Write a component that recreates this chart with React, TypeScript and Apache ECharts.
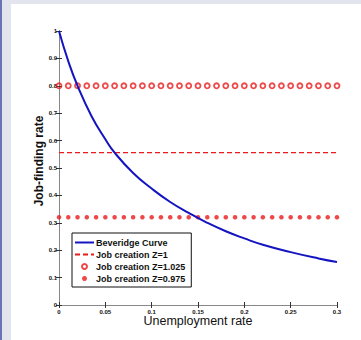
import React, { useEffect, useRef } from "react";
import * as echarts from "echarts";

// Beveridge curve points (unemployment rate, job-finding rate)
const beveridgeU = [0, 0.01, 0.02, 0.035, 0.05, 0.06, 0.08, 0.1, 0.12, 0.14, 0.16, 0.18, 0.2, 0.22, 0.25, 0.28, 0.3];
const beveridgeF = [1, 0.89, 0.8, 0.69, 0.605, 0.556, 0.482, 0.425, 0.376, 0.336, 0.3, 0.269, 0.243, 0.22, 0.193, 0.17, 0.157];

// Job creation lines (horizontal levels)
const jobCreationZ1U = [0, 0.3];
const jobCreationZ1Level = 0.556;
const markerU = [
  0, 0.01, 0.02, 0.03, 0.04, 0.05, 0.06, 0.07, 0.08, 0.09, 0.1, 0.11, 0.12, 0.13, 0.14, 0.15,
  0.16, 0.17, 0.18, 0.19, 0.2, 0.21, 0.22, 0.23, 0.24, 0.25, 0.26, 0.27, 0.28, 0.29, 0.3,
];
const jobCreationHighLevel = 0.8; // Z=1.025
const jobCreationLowLevel = 0.32; // Z=0.975

const seriesNames = ["Beveridge Curve", "Job creation Z=1", "Job creation Z=1.025", "Job creation Z=0.975"];
const xTitle = "Unemployment rate";
const yTitle = "Job-finding rate";

const BLUE = "#1414c0";
const RED = "#e81c1c";

export default function App() {
  const ref = useRef<HTMLDivElement>(null);

  useEffect(() => {
    if (!ref.current) return;
    const chart = echarts.init(ref.current, null, { renderer: "svg" });
    const fmt = (v: number) => {
      const r = parseFloat(v.toFixed(2));
      return r === 0 ? "0" : String(r);
    };
    const tickLabel = { fontSize: 6, fontWeight: "bold" as const, color: "#111", fontFamily: "Liberation Sans" };
    const baseAxisLine = { show: true, lineStyle: { color: "#222", width: 1 } };
    const boxAxisLine = { show: true, lineStyle: { color: "#888", width: 1 } };
    const tick = { show: true, inside: true, length: 3, lineStyle: { color: "#333", width: 1 } };

    chart.setOption({
      animation: false,
      backgroundColor: "transparent",
      grid: { left: 59, top: 31, width: 278, height: 274, containLabel: false },
      graphic: [
        { type: "rect", z: -10, shape: { x: 0, y: 0, width: 361, height: 340 }, style: { fill: "#e3e5ee" } },
        { type: "rect", z: -9, shape: { x: 0, y: 0, width: 2, height: 340 }, style: { fill: "#6a74b4" } },
        { type: "rect", z: -9, shape: { x: 11, y: 4, width: 350, height: 336 }, style: { fill: "#ffffff" } },
        {
          type: "text",
          x: 39,
          y: 161,
          rotation: Math.PI / 2,
          style: {
            text: yTitle,
            fontSize: 12,
            fontWeight: "bold",
            fontFamily: "Liberation Sans",
            fill: "#111",
            align: "center",
            verticalAlign: "middle",
          },
        },
        {
          type: "text",
          x: 198,
          y: 321,
          style: {
            text: xTitle,
            fontSize: 12.5,
            fontFamily: "Liberation Sans",
            fill: "#111",
            align: "center",
            verticalAlign: "middle",
          },
        },
      ],
      legend: {
        orient: "vertical",
        left: 72,
        top: 233,
        width: 114,
        padding: [5, 6, 4, 2],
        itemWidth: 19,
        itemHeight: 5,
        itemGap: 3,
        backgroundColor: "#fff",
        borderColor: "#111",
        borderWidth: 1,
        borderRadius: 0,
        textStyle: { fontSize: 9, fontWeight: "bold", color: "#111", fontFamily: "Liberation Sans", padding: [0, 0, 0, -3] },
        data: [
          { name: seriesNames[0], itemStyle: { opacity: 0 } },
          { name: seriesNames[1], itemStyle: { opacity: 0 } },
          { name: seriesNames[2] },
          { name: seriesNames[3] },
        ],
      },
      xAxis: [
        {
          type: "value",
          min: 0,
          max: 0.3,
          interval: 0.05,
          position: "bottom",
          axisLine: baseAxisLine,
          axisTick: tick,
          splitLine: { show: false },
          axisLabel: { ...tickLabel, margin: 4, formatter: fmt },
        },
        {
          type: "value",
          min: 0,
          max: 0.3,
          interval: 0.05,
          position: "top",
          axisLine: boxAxisLine,
          axisTick: tick,
          splitLine: { show: false },
          axisLabel: { show: false },
        },
      ],
      yAxis: [
        {
          type: "value",
          min: 0,
          max: 1,
          interval: 0.1,
          position: "left",
          axisLine: baseAxisLine,
          axisTick: tick,
          splitLine: { show: false },
          axisLabel: { ...tickLabel, margin: 2, formatter: fmt },
        },
        {
          type: "value",
          min: 0,
          max: 1,
          interval: 0.1,
          position: "right",
          axisLine: boxAxisLine,
          axisTick: tick,
          splitLine: { show: false },
          axisLabel: { show: false },
        },
      ],
      series: [
        {
          name: seriesNames[0],
          type: "line",
          smooth: 0.5,
          symbol: "none",
          data: beveridgeU.map((u, i) => [u, beveridgeF[i]]),
          lineStyle: { color: BLUE, width: 2 },
          itemStyle: { color: BLUE },
          z: 3,
        },
        {
          name: seriesNames[1],
          type: "line",
          symbol: "none",
          data: jobCreationZ1U.map((u) => [u, jobCreationZ1Level]),
          lineStyle: { color: RED, width: 1.3, type: [5, 3] },
          itemStyle: { color: RED },
          z: 2,
        },
        {
          name: seriesNames[2],
          type: "scatter",
          symbol: "circle",
          symbolSize: 5,
          data: markerU.map((u) => [u, jobCreationHighLevel]),
          itemStyle: { color: "rgba(255,255,255,0)", borderColor: RED, borderWidth: 1.8 },
          z: 2,
        },
        {
          name: seriesNames[3],
          type: "scatter",
          symbol: "circle",
          symbolSize: 4.5,
          data: markerU.map((u) => [u, jobCreationLowLevel]),
          itemStyle: { color: RED },
          z: 2,
        },
      ],
    });
    return () => chart.dispose();
  }, []);

  return (
    <div
      ref={ref}
      style={{ position: "absolute", left: 0, top: 0, width: 361, height: 340 }}
    />
  );
}
